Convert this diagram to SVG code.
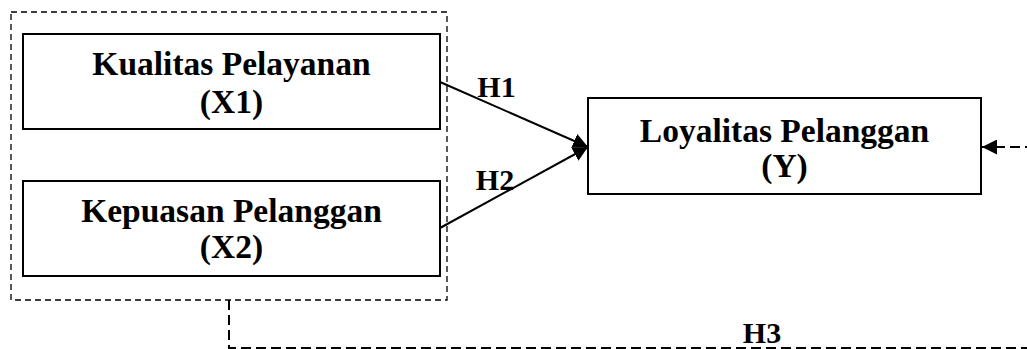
<svg xmlns="http://www.w3.org/2000/svg" width="1027" height="349" viewBox="0 0 1027 349">
<style>
.box{fill:#fff;stroke:#000;stroke-width:2}
.grp{fill:none;stroke:#000;stroke-width:1.3;stroke-dasharray:6 4}
.lbl{font-family:"Liberation Serif",serif;font-weight:bold;font-size:33.5px;fill:#000;text-anchor:middle}
.h{font-family:"Liberation Serif",serif;font-weight:bold;font-size:30px;fill:#000;text-anchor:middle}
.ln{fill:none;stroke:#000;stroke-width:2}
.dl{fill:none;stroke:#000;stroke-width:2;stroke-dasharray:10 5}
</style>
<defs>
<marker id="ah" viewBox="0 0 10 10" refX="10" refY="5" markerWidth="15" markerHeight="15" markerUnits="userSpaceOnUse" orient="auto">
<path d="M0 0 L10 5 L0 10 Z" fill="#000"/>
</marker>
</defs>
<g id="group-x">
<rect class="grp" x="11" y="12" width="436" height="288"/>
</g>
<g id="node-x1">
<rect class="box" x="23" y="34" width="417" height="95"/>
<text class="lbl" x="231.5" y="75">Kualitas Pelayanan</text>
<text class="lbl" x="231.5" y="113">(X1)</text>
</g>
<g id="node-x2">
<rect class="box" x="23" y="181" width="417" height="95"/>
<text class="lbl" x="231.5" y="222">Kepuasan Pelanggan</text>
<text class="lbl" x="231.5" y="258">(X2)</text>
</g>
<g id="node-y">
<rect class="box" x="588" y="98" width="393" height="96"/>
<text class="lbl" x="784.5" y="142">Loyalitas Pelanggan</text>
<text class="lbl" x="784.5" y="177">(Y)</text>
</g>
<g id="connectors">
<line class="ln" x1="440" y1="82" x2="588" y2="147" marker-end="url(#ah)"/>
<line class="ln" x1="440" y1="228" x2="588" y2="147" marker-end="url(#ah)"/>
<path class="dl" d="M229 300 V348 H1040 V147 H982" marker-end="url(#ah)"/>
<text class="h" x="496.5" y="97">H1</text>
<text class="h" x="495" y="190">H2</text>
<text class="h" x="762" y="343">H3</text>
</g>
</svg>
